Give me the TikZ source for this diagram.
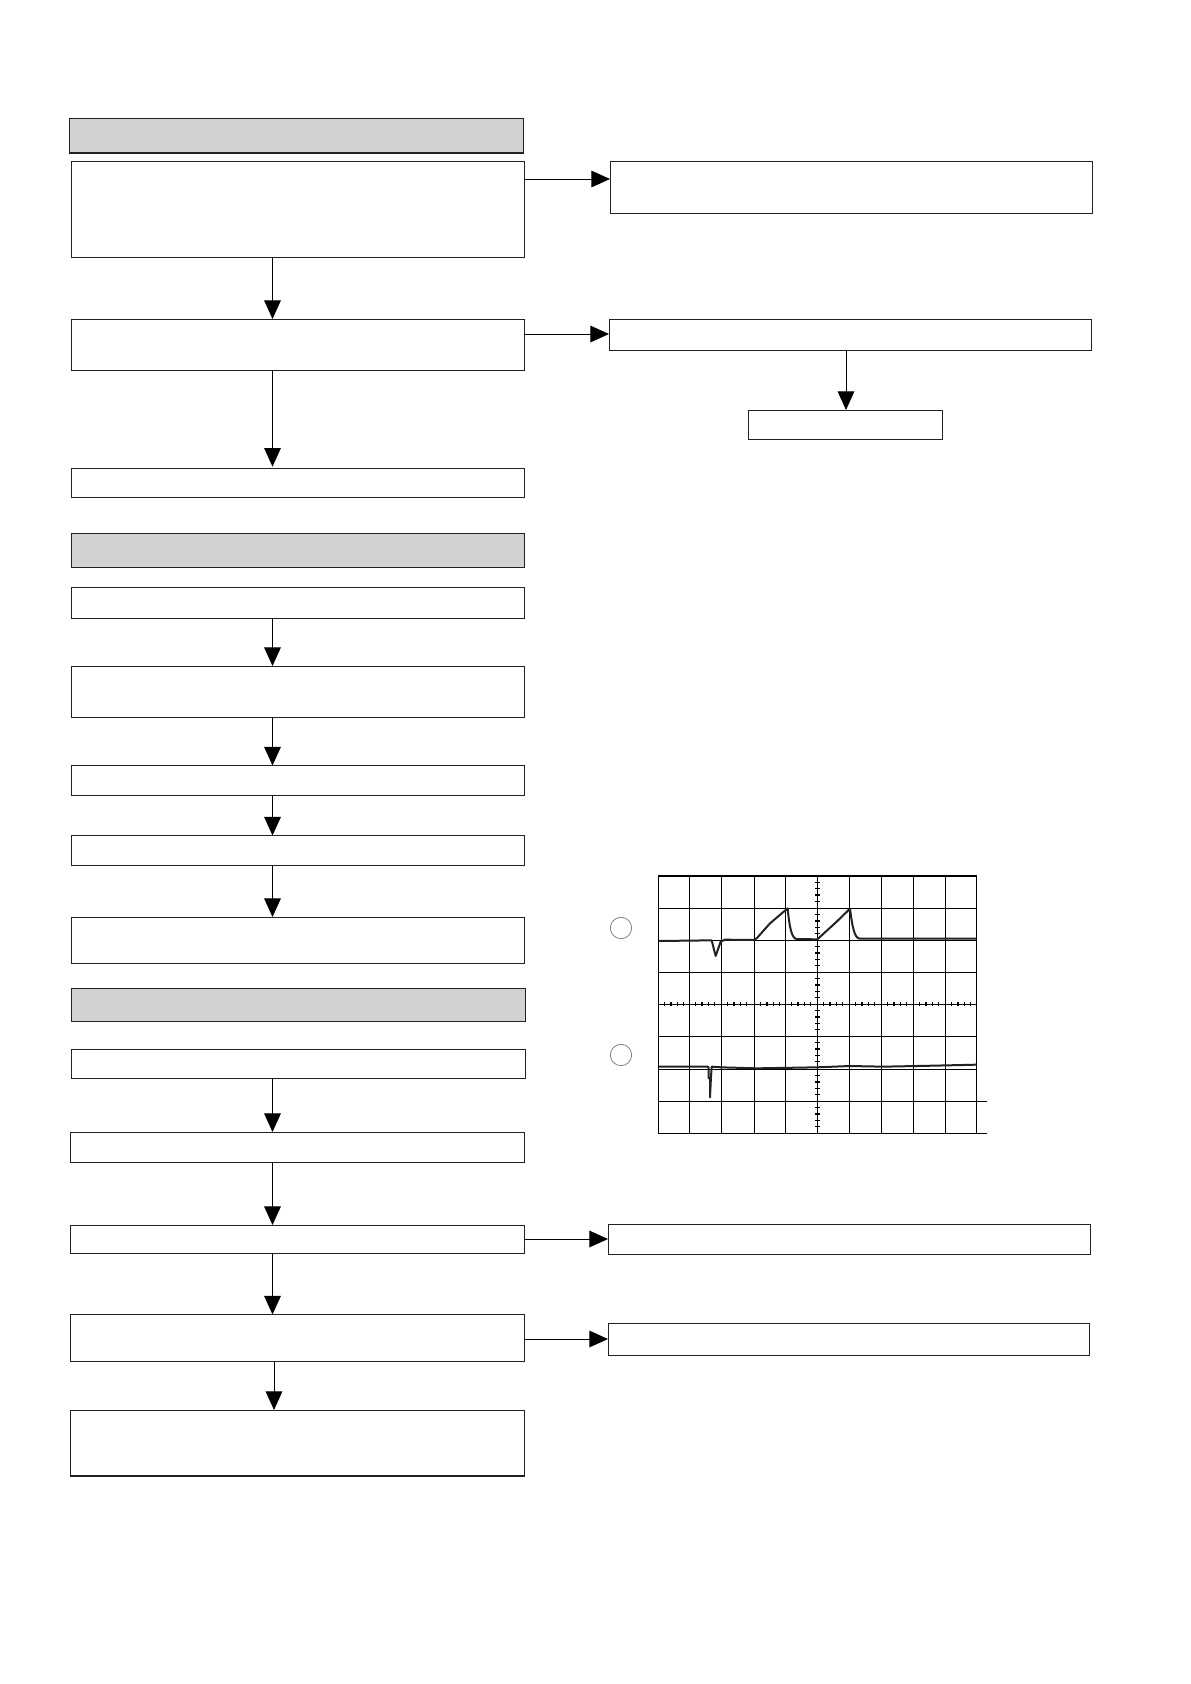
\documentclass[tikz,border=0pt]{standalone}
\usetikzlibrary{arrows.meta}
\definecolor{headgray}{HTML}{D2D2D2}
\definecolor{inkgray}{HTML}{222222}
\tikzset{
    flowbox/.style={draw=inkgray, line width=0.55pt, anchor=north west, inner sep=0pt, outer sep=0pt},
    headbox/.style={flowbox, fill=headgray},
    boxw/.style={minimum width=#1*0.75pt},
    boxh/.style={minimum height=#1*0.75pt},
    flow/.style={draw=black, line width=0.7pt, -{Triangle[length=14pt,width=12.5pt]}},
    probe/.style={circle, draw=gray, line width=0.6pt, inner sep=0pt, minimum size=16pt},
    gridline/.style={draw=black, line width=0.95pt},
    trace/.style={draw=inkgray, line width=1.5pt, line join=round},
}
\begin{document}
\begin{tikzpicture}[x=0.75pt, y=-0.75pt]
    \useasboundingbox (0,0) rectangle (1190,1684);

    % Colonnes et niveaux des fleches
    \coordinate (spine) at (272.5,0);
    \coordinate (spineb) at (274,0);
    \coordinate (drop) at (846,0);
    \coordinate (tapa) at (0,179);
    \coordinate (tapb) at (0,334);
    \coordinate (tapc) at (0,1239);
    \coordinate (tapd) at (0,1339);

    % Premier bloc
    \node[headbox, boxw=454, boxh=35] (heada) at (69.5,118) {};
    \node[flowbox, boxw=453, boxh=96] (boxa) at (71,161) {};
    \node[flowbox, boxw=482, boxh=52] (sidea) at (610,161) {};
    \node[flowbox, boxw=453, boxh=51] (boxb) at (71,319) {};
    \node[flowbox, boxw=482, boxh=31] (sideb) at (609,319) {};
    \node[flowbox, boxw=194, boxh=29] (sidec) at (748.5,410) {};
    \node[flowbox, boxw=453, boxh=29] (boxc) at (71,468) {};

    % Deuxieme bloc
    \node[headbox, boxw=453, boxh=34] (headb) at (71,533) {};
    \node[flowbox, boxw=453, boxh=31] (boxd) at (71,587) {};
    \node[flowbox, boxw=453, boxh=51] (boxe) at (71,666) {};
    \node[flowbox, boxw=453, boxh=30] (boxf) at (71,765.5) {};
    \node[flowbox, boxw=453, boxh=30] (boxg) at (71,835.5) {};
    \node[flowbox, boxw=453, boxh=46] (boxh) at (71,917) {};

    % Troisieme bloc
    \node[headbox, boxw=454, boxh=33] (headc) at (71,988) {};
    \node[flowbox, boxw=454, boxh=29] (boxi) at (71,1049) {};
    \node[flowbox, boxw=454, boxh=30] (boxj) at (70,1132) {};
    \node[flowbox, boxw=454, boxh=28] (boxk) at (70,1225) {};
    \node[flowbox, boxw=454, boxh=47] (boxl) at (70,1314.5) {};
    \node[flowbox, boxw=454, boxh=66] (boxm) at (70,1410) {};
    \node[flowbox, boxw=482, boxh=30] (sided) at (608,1224) {};
    \node[flowbox, boxw=481, boxh=32] (sidee) at (608,1323) {};

    % Traits epais
    \draw[line width=1.3pt, draw=inkgray] (heada.south west) -- (heada.south east);
    \draw[line width=1.1pt, draw=inkgray] (boxm.south west) -- (boxm.south east);

    % Fleches verticales
    \draw[flow] (spine |- boxa.south) -- (spine |- boxb.north);
    \draw[flow] (spine |- boxb.south) -- ([yshift=1pt]spine |- boxc.north);
    \draw[flow] (drop |- sideb.south) -- (drop |- sidec.north);
    \draw[flow] (spine |- boxd.south) -- (spine |- boxe.north);
    \draw[flow] (spine |- boxe.south) -- (spine |- boxf.north);
    \draw[flow] (spine |- boxf.south) -- (spine |- boxg.north);
    \draw[flow] (spine |- boxg.south) -- (spine |- boxh.north);
    \draw[flow] (spine |- boxi.south) -- (spine |- boxj.north);
    \draw[flow] (spine |- boxj.south) -- (spine |- boxk.north);
    \draw[flow] (spine |- boxk.south) -- (spine |- boxl.north);
    \draw[flow] (spineb |- boxl.south) -- (spineb |- boxm.north);

    % Fleches horizontales
    \draw[flow] (boxa.east |- tapa) -- (sidea.west |- tapa);
    \draw[flow] (boxb.east |- tapb) -- (sideb.west |- tapb);
    \draw[flow] (boxk.east |- tapc) -- (sided.west |- tapc);
    \draw[flow] (boxl.east |- tapd) -- (sidee.west |- tapd);

    % Voies de l'oscilloscope
    \node[probe] (chana) at (621,928) {};
    \node[probe] (chanb) at (621,1055) {};

    % Ecran
    \begin{scope}[shift={(600,860)}, x=0.25pt, y=-0.25pt]
        \foreach \gx in {175,268,364,463,556,652,748,844,940,1036,1130}
            \draw[gridline] (\gx,48) -- (\gx,820);
        \foreach \gy in {48,145,241,337,433,529,628}
            \draw[gridline] (175,\gy) -- (1130,\gy);
        \draw[gridline] (175,724) -- (1161,724);
        \draw[gridline] (175,820) -- (1161,820);
        % Graduations
        \foreach \gy in {48,145,241,337,433,529,628,724}
            \foreach \k in {1,...,4}
                \draw[gridline] (645,\gy+\k*19) -- (659,\gy+\k*19);
        \foreach \gx in {175,268,364,463,556,652,748,844,940,1036}
            \foreach \k in {1,...,4}
                \draw[gridline] (\gx+\k*19,427) -- (\gx+\k*19,439);
        % Signaux
        \draw[trace] (175,243) -- (335,241) -- (347,288) -- (362,245) -- (375,239) -- (460,240) -- (470,235) -- (510,190) -- (563,145) .. controls (568,200) and (575,236) .. (590,237) -- (652,238) -- (710,185) -- (750,146) .. controls (757,200) and (763,236) .. (780,236) -- (1130,236);
        \draw[trace] (175,620) -- (322,620) -- (326,622) -- (326,655) -- (330,655) -- (330,712) -- (333,650) -- (335,620) -- (365,622) -- (470,625) -- (650,622) -- (750,618) -- (850,620) -- (1000,617) -- (1130,614);
    \end{scope}
\end{tikzpicture}
\end{document}
